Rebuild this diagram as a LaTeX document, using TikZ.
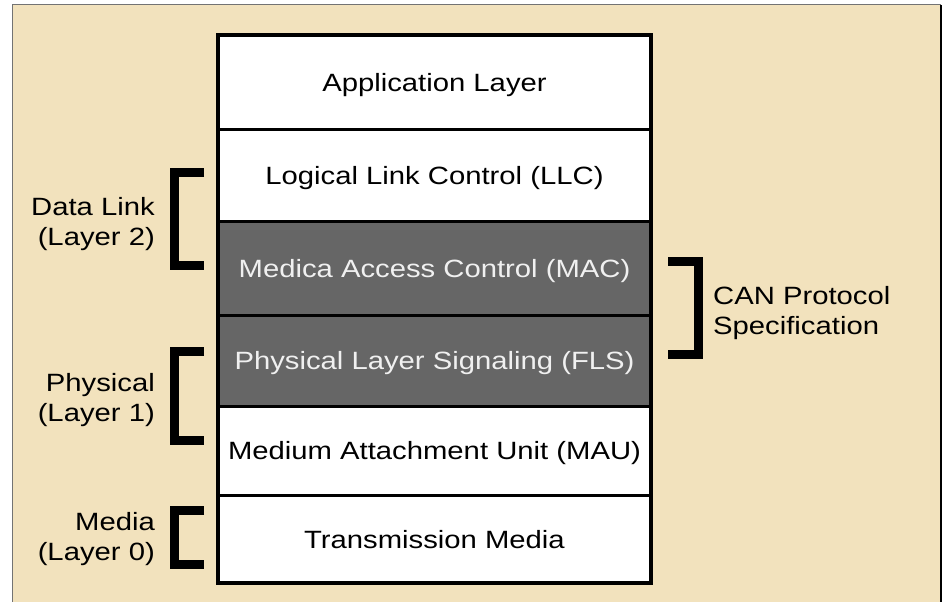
\documentclass[tikz,border=0pt]{standalone}
\usepackage{fontspec}
\setmainfont{Liberation Sans}[FakeStretch=1.17]
\definecolor{bgtan}{RGB}{242,226,189}
\definecolor{darkrow}{RGB}{102,102,102}
\definecolor{rowtext}{RGB}{240,240,240}
\begin{document}
\begin{tikzpicture}[x=1bp,y=-1bp,
  layerbox/.style={draw=black,line width=3bp,fill=white,minimum width=433bp,inner sep=0pt,
    text height=18bp,text depth=0bp,
    font=\fontsize{25bp}{30bp}\selectfont,text=black},
  darkbox/.style={layerbox,fill=darkrow,text=rowtext},
  sidelabel/.style={align=right,anchor=east,inner sep=0pt,font=\fontsize{25bp}{30bp}\selectfont},
  rightlabel/.style={align=left,anchor=west,inner sep=0pt,font=\fontsize{25bp}{30bp}\selectfont},
  bracket/.style={line width=9bp,line cap=butt,line join=miter}]
\useasboundingbox (0,0) rectangle (946,602);
\fill[white] (0,0) rectangle (946,602);
\fill[bgtan] (12,5) rectangle (941,602);
\draw[black!55,line width=1bp] (12,602) -- (12,5) -- (941,5);
\draw[black,line width=2.5bp] (941,5) -- (941,602);
% layers
\node[layerbox,minimum height=95bp] (app) at (434.5,82.5) {Application Layer};
\node[layerbox,minimum height=92bp] (llc) at (434.5,176) {Logical Link Control (LLC)};
\node[darkbox,minimum height=93bp] (mac) at (434.5,268.5) {Medica Access Control (MAC)};
\node[darkbox,minimum height=91bp] (fls) at (434.5,360.5) {Physical Layer Signaling (FLS)};
\node[layerbox,minimum height=89bp] (mau) at (434.5,450.5) {Medium Attachment Unit (MAU)};
\node[layerbox,minimum height=88bp] (tm) at (434.5,539) {Transmission Media};
\draw[line width=4.5bp] (218,35) rectangle (651,583);
% brackets
\draw[bracket] (204,172.5) -- (174.5,172.5) -- (174.5,265.5) -- (204,265.5);
\draw[bracket] (204,351.5) -- (174.5,351.5) -- (174.5,440.5) -- (204,440.5);
\draw[bracket] (204,510.5) -- (174.5,510.5) -- (174.5,564.5) -- (204,564.5);
\draw[bracket] (668,261.5) -- (698.5,261.5) -- (698.5,354.5) -- (668,354.5);
% labels
\node[sidelabel] (dl) at (155,224) {Data Link\\(Layer 2)};
\node[sidelabel] (ph) at (155,400) {Physical\\(Layer 1)};
\node[sidelabel] (me) at (155,539) {Media\\(Layer 0)};
\node[rightlabel] (can) at (713,313) {CAN Protocol\\Specification};
\end{tikzpicture}
\end{document}
